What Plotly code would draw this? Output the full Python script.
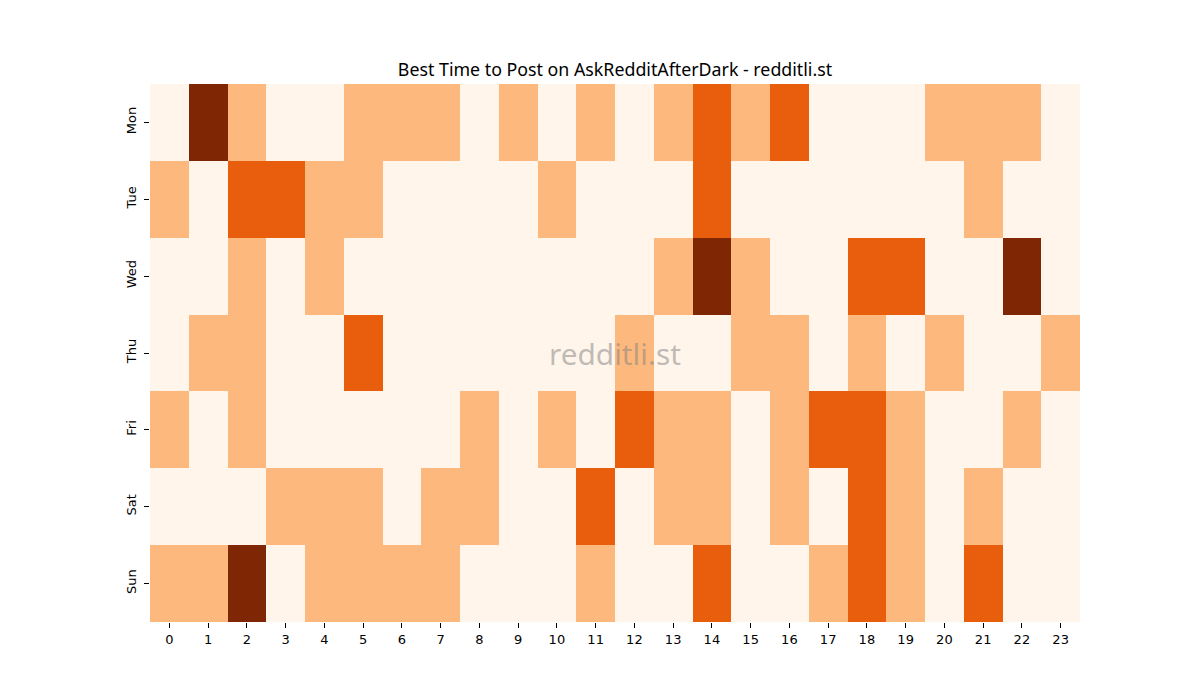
import plotly.graph_objects as go

hours = [str(h) for h in range(24)]
days = ["Mon", "Tue", "Wed", "Thu", "Fri", "Sat", "Sun"]

mon = [0, 3, 1, 0, 0, 1, 1, 1, 0, 1, 0, 1, 0, 1, 2, 1, 2, 0, 0, 0, 1, 1, 1, 0]
tue = [1, 0, 2, 2, 1, 1, 0, 0, 0, 0, 1, 0, 0, 0, 2, 0, 0, 0, 0, 0, 0, 1, 0, 0]
wed = [0, 0, 1, 0, 1, 0, 0, 0, 0, 0, 0, 0, 0, 1, 3, 1, 0, 0, 2, 2, 0, 0, 3, 0]
thu = [0, 1, 1, 0, 0, 2, 0, 0, 0, 0, 0, 0, 1, 0, 0, 1, 1, 0, 1, 0, 1, 0, 0, 1]
fri = [1, 0, 1, 0, 0, 0, 0, 0, 1, 0, 1, 0, 2, 1, 1, 0, 1, 2, 2, 1, 0, 0, 1, 0]
sat = [0, 0, 0, 1, 1, 1, 0, 1, 1, 0, 0, 2, 0, 1, 1, 0, 1, 0, 2, 1, 0, 1, 0, 0]
sun = [1, 1, 3, 0, 1, 1, 1, 1, 0, 0, 0, 1, 0, 0, 2, 0, 0, 1, 2, 1, 0, 2, 0, 0]

z = [mon, tue, wed, thu, fri, sat, sun]

colorscale = [
    [0.0, "#fff5eb"], [0.1667, "#fff5eb"],
    [0.1667, "#fdb97d"], [0.5, "#fdb97d"],
    [0.5, "#e95e0d"], [0.8333, "#e95e0d"],
    [0.8333, "#7f2704"], [1.0, "#7f2704"],
]

fig = go.Figure(go.Heatmap(
    z=z, x=hours, y=days,
    colorscale=colorscale, zmin=-0.5, zmax=3.5,
    showscale=False, hoverongaps=False,
))

font = "DejaVu Sans"
tfont = "Noto Sans"
fig.update_layout(
    width=1200, height=700,
    margin=dict(l=150, r=120, t=84, b=78),
    paper_bgcolor="white", plot_bgcolor="white",
    font=dict(family=font, size=13, color="black"),
    title=dict(text="Best Time to Post on AskRedditAfterDark - redditli.st",
               x=0.5125, xanchor="center", y=0.9, yanchor="middle",
               yref="container", font=dict(family=tfont, size=17.8, color="black")),
    xaxis=dict(showgrid=False, zeroline=False, ticks="outside", ticklen=5,
               tickcolor="black", showline=False, tickfont=dict(size=13)),
    yaxis=dict(showgrid=False, zeroline=False, ticks="outside", ticklen=5,
               tickcolor="black", showline=False, autorange="reversed",
               tickangle=-90, tickfont=dict(size=13), ticklabelstandoff=3),
    annotations=[dict(text="redditli.st", x=0.5, y=0.5, xref="paper", yref="paper",
                      showarrow=False, font=dict(family=tfont, size=29.8,
                                                 color="rgba(128,128,128,0.5)"))],
)

fig.write_html("out.html")
